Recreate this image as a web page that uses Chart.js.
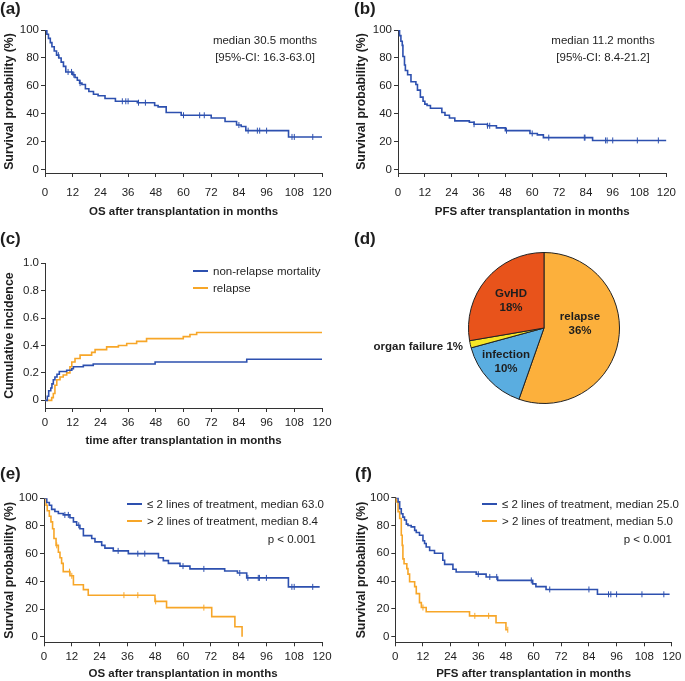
<!DOCTYPE html>
<html><head><meta charset="utf-8">
<script src="https://cdn.jsdelivr.net/npm/chart.js@4"></script>
<style>
body{margin:0;background:#fff;}
#wrap{position:relative;width:685px;height:681px;overflow:hidden;font-family:"Liberation Sans",Arial,sans-serif;color:#1e1e1e;background:#fff;}
canvas{position:absolute;}
.t{position:absolute;white-space:nowrap;font-size:11.5px;line-height:14px;}
.c{text-align:center;}
.r{text-align:right;}
.b{font-weight:bold;}
.lab{position:absolute;font-weight:bold;font-size:17px;line-height:20px;white-space:nowrap;}
.sw{position:absolute;height:2px;width:15px;}
</style></head><body><div id="wrap">
<canvas id="ca" width="342" height="222" style="left:0;top:0"></canvas>
<canvas id="cb" width="343" height="222" style="left:342px;top:0"></canvas>
<canvas id="cc" width="342" height="228" style="left:0;top:222px"></canvas>
<canvas id="cd" width="152" height="152" style="left:468px;top:252px"></canvas>
<canvas id="ce" width="342" height="231" style="left:0;top:450px"></canvas>
<canvas id="cf" width="343" height="231" style="left:342px;top:450px"></canvas>

<div class="lab" style="left:0;top:-1px">(a)</div>
<div class="lab" style="left:354px;top:-1px">(b)</div>
<div class="lab" style="left:0;top:229px">(c)</div>
<div class="lab" style="left:354px;top:229px">(d)</div>
<div class="lab" style="left:0;top:464px">(e)</div>
<div class="lab" style="left:355px;top:464px">(f)</div>

<div class="t c" style="left:185px;top:32px;width:160px;line-height:17px">median 30.5 months<br>[95%-CI: 16.3-63.0]</div>
<div class="t c" style="left:523px;top:32px;width:160px;line-height:17px">median 11.2 months<br>[95%-CI: 8.4-21.2]</div>

<div class="sw" style="left:193px;top:270px;background:#2D50AF"></div>
<div class="t" style="left:213px;top:264px">non-relapse mortality</div>
<div class="sw" style="left:193px;top:287px;background:#F7A628"></div>
<div class="t" style="left:213px;top:281px">relapse</div>

<div class="t b c" style="left:471px;top:286px;width:80px">GvHD<br>18%</div>
<div class="t b c" style="left:540px;top:309px;width:80px">relapse<br>36%</div>
<div class="t b c" style="left:466px;top:347px;width:80px">infection<br>10%</div>
<div class="t b r" style="left:343px;top:339px;width:120px">organ failure 1%</div>

<div class="sw" style="left:127px;top:503px;background:#2D50AF"></div>
<div class="t" style="left:147px;top:497px">≤ 2 lines of treatment, median 63.0</div>
<div class="sw" style="left:127px;top:520px;background:#F7A628"></div>
<div class="t" style="left:147px;top:514px">&gt; 2 lines of treatment, median 8.4</div>
<div class="t r" style="left:216px;top:532px;width:100px">p &lt; 0.001</div>

<div class="sw" style="left:482px;top:503px;background:#2D50AF"></div>
<div class="t" style="left:502px;top:497px">≤ 2 lines of treatment, median 25.0</div>
<div class="sw" style="left:482px;top:520px;background:#F7A628"></div>
<div class="t" style="left:502px;top:514px">&gt; 2 lines of treatment, median 5.0</div>
<div class="t r" style="left:572px;top:532px;width:100px">p &lt; 0.001</div>
</div>
<script>
// ---------------- data ----------------
const monthTicks = [0, 12, 24, 36, 48, 60, 72, 84, 96, 108, 120];
const pctTicks = [0, 20, 40, 60, 80, 100];
const cifTicks = [0, 0.2, 0.4, 0.6, 0.8, 1.0];

// (a) overall survival
const osTime = [0, 0.8, 1.5, 2.3, 3, 4, 5, 6, 7, 8, 9, 12, 13, 14, 15, 16, 17.5, 19, 21, 23, 26, 30.5, 40, 47.5, 49, 52.5, 59, 72, 78, 83, 85, 87, 105.5, 120];
const osSurv = [100, 97, 94, 91, 88, 85, 82, 80, 77, 74, 70, 68, 66, 64, 62, 61, 58, 56, 54, 53, 51, 49, 48, 46, 45, 41, 39, 37, 34.5, 32, 31, 28, 23.5, 23.5];
const osCensTime = [5.8, 10, 11.5, 12.5, 15.2, 33.5, 35, 36, 40.5, 43.5, 60, 67, 69, 84, 88, 92, 93, 96, 107, 108, 116];
const osCensSurv = [82, 70, 70, 68, 62, 49, 49, 49, 48, 48, 39, 39, 39, 32, 28, 28, 28, 28, 23.5, 23.5, 23.5];

// (b) progression-free survival
const pfsTime = [0, 0.7, 1.3, 1.9, 2.2, 2.9, 3.3, 4.3, 5.8, 8, 8.7, 10, 11.2, 12, 13, 14.5, 19.6, 21, 23, 25.4, 31.9, 34, 40, 44, 48, 59, 62.3, 65, 87, 120];
const pfsSurv = [100, 96, 92, 89, 81, 75, 71, 68, 63, 61, 57, 52, 49, 47, 46, 44, 41, 39, 37, 35, 34, 32.6, 31.5, 30, 28, 26, 25, 23, 21, 21];
const pfsCensTime = [34, 40, 41, 48.5, 60, 67.4, 83.3, 83.6, 92.8, 93.5, 96, 107, 116.4];
const pfsCensSurv = [32.6, 31.5, 31.5, 28, 26, 23, 23, 23, 21, 21, 21, 21, 21];

// (c) cumulative incidence
const nrmTime = [0, 1, 1.6, 2.5, 3, 3.6, 4.3, 5.2, 6.2, 9.4, 11.6, 12.3, 16.6, 20.9, 47.7, 87.4, 120];
const nrmInc = [0, 0.03, 0.07, 0.09, 0.12, 0.15, 0.17, 0.19, 0.21, 0.22, 0.23, 0.245, 0.255, 0.265, 0.28, 0.30, 0.30];
const relTime = [0, 2.9, 3.6, 4.3, 5.1, 6.5, 7.9, 9.4, 10.8, 11.6, 13, 15.2, 20.2, 21.7, 26.7, 31.8, 35.4, 39.7, 44, 59.9, 62.8, 65.7, 120];
const relInc = [0, 0.02, 0.05, 0.11, 0.15, 0.17, 0.185, 0.2, 0.245, 0.28, 0.305, 0.33, 0.35, 0.37, 0.39, 0.40, 0.415, 0.43, 0.45, 0.465, 0.48, 0.495, 0.495];

// (d) causes of death (% of cohort)
const pieLabels = ['relapse', 'infection', 'organ failure', 'GvHD'];
const piePct = [36, 10, 1, 18];

// (e) OS by lines of treatment
const osLowTime = [0, 1.2, 2.3, 3.3, 4.7, 6.2, 8.3, 11.2, 12.7, 14.1, 15.5, 17, 20.6, 22, 24.9, 26.3, 29.9, 36.4, 49.4, 51.5, 53.7, 58.7, 63, 78, 83.5, 87.5, 105.5, 119];
const osLowSurv = [100, 97, 95, 92, 90.5, 89, 88, 86, 83, 80.5, 78, 73, 71, 68.5, 66, 64, 62, 60, 57, 55, 53, 51, 49, 47.5, 46, 42.5, 36, 36];
const osLowCensTime = [9, 10.5, 15, 32, 40.5, 43.5, 60, 69, 84.5, 88, 92.5, 93, 96, 107, 108, 116];
const osLowCensSurv = [88, 88, 80.5, 62, 60, 60, 51, 49, 46, 42.5, 42.5, 42.5, 42.5, 36, 36, 36];
const osHighTime = [0, 0.9, 1.4, 2.3, 3, 3.7, 4.3, 5.2, 6.2, 6.9, 7.6, 8.3, 11.2, 12.7, 17, 19.1, 47.9, 52.9, 72.4, 82.4, 85.5];
const osHighSurv = [100, 95, 91, 87, 83, 78, 71, 66, 61, 57, 53, 47, 44, 37.5, 34, 30, 25.5, 21, 14.5, 7.2, 0];
const osHighCensTime = [5.5, 11, 12, 34.5, 40.5, 48.2, 69];
const osHighCensSurv = [66, 47, 44, 30, 30, 25.5, 21];

// (f) PFS by lines of treatment
const pfsLowTime = [0, 1.2, 1.9, 2.6, 3.3, 4, 4.8, 5.5, 6.9, 8.4, 9.1, 10.5, 12, 12.7, 13.4, 14.9, 17, 20.6, 21.4, 25, 26.4, 35.1, 39.4, 44.4, 59.6, 61, 65.4, 87.7, 119];
const pfsLowSurv = [100, 97, 92, 88.5, 86, 84, 81, 80, 79, 76.5, 75, 73, 69, 67, 64.5, 62, 60, 55, 52, 48.5, 46.5, 45, 43, 40.5, 38, 36, 34, 30.5, 30.5];
const pfsLowCensTime = [36, 41, 44, 59, 67, 84, 92.5, 93.5, 96, 107, 116.5];
const pfsLowCensSurv = [45, 43, 43, 40.5, 34, 34, 30.5, 30.5, 30.5, 30.5, 30.5];
const pfsHighTime = [0, 0.4, 1.2, 1.9, 2.6, 3, 3.3, 3.8, 5, 5.5, 6.2, 8.4, 9.1, 10.5, 11.3, 13.4, 32.2, 43.7, 48, 48.8];
const pfsHighSurv = [100, 97, 90, 85, 73, 65.7, 56, 52.5, 49, 45, 39.5, 36, 31, 24.5, 21, 18, 15, 10, 5, 5];
const pfsHighCensTime = [12, 34.5, 40.5, 48.8];
const pfsHighCensSurv = [21, 15, 15, 5];

// ---------------- drawing ----------------
const BLUE = '#2D50AF', ORANGE = '#F7A628', TXT = '#1e1e1e', AX = '#333';
Chart.defaults.font.family = '"Liberation Sans", Arial, sans-serif';
Chart.defaults.font.size = 11.5;
Chart.defaults.color = TXT;

const toXY = (xs, ys) => xs.map((x, i) => ({x: x, y: ys[i]}));
function lineDS(xs, ys, color) {
  return {type: 'line', data: toXY(xs, ys), borderColor: color, borderWidth: 1.6,
          stepped: 'before', pointRadius: 0, fill: false, order: 2};
}
function censDS(xs, ys, color) {
  return {type: 'scatter', data: toXY(xs, ys), borderColor: color, backgroundColor: color,
          pointStyle: 'line', rotation: 90, pointRadius: 3, borderWidth: 1, showLine: false, order: 1};
}

function kmChart(id, datasets, o) {
  const gridCfg = {display: true, drawOnChartArea: false, drawTicks: true, tickLength: 4, color: AX, lineWidth: 1};
  return new Chart(document.getElementById(id), {
    type: 'line',
    data: {datasets: datasets},
    options: {
      responsive: false, animation: false, events: [],
      layout: {padding: {left: 0, top: o.padTop, right: o.padRight, bottom: 0}},
      plugins: {legend: {display: false}, tooltip: {enabled: false}},
      scales: {
        x: {
          type: 'linear', min: 0, max: 120,
          afterBuildTicks: s => { s.ticks = monthTicks.map(v => ({value: v})); },
          afterFit: s => { s.height = o.xHeight; },
          grid: gridCfg, border: {display: true, color: AX, width: 1},
          ticks: {padding: o.xTickPad, autoSkip: false, maxRotation: 0, minRotation: 0, color: TXT},
          title: {display: true, text: o.xTitle, color: TXT, font: {size: 11.5, weight: 'bold'},
                  padding: {top: 0, bottom: o.xTitlePad}}
        },
        y: {
          type: 'linear', min: o.yMin, max: o.yMax,
          afterBuildTicks: s => { s.ticks = o.yTicks.map(v => ({value: v})); },
          afterFit: s => { s.width = o.yWidth; },
          grid: gridCfg, border: {display: true, color: AX, width: 1},
          ticks: {padding: 2, color: TXT, callback: o.yFmt || (v => v)},
          title: {display: true, text: o.yTitle, color: TXT, font: {size: 12.3, weight: 'bold'},
                  padding: {top: o.yTitlePad, bottom: 0}}
        }
      }
    }
  });
}

kmChart('ca', [lineDS(osTime, osSurv, BLUE), censDS(osCensTime, osCensSurv, BLUE)], {
  padTop: 30, padRight: 20, xHeight: 49, yWidth: 45, yMin: -2.3, yMax: 100, yTicks: pctTicks,
  xTickPad: 9, xTitlePad: 3, yTitlePad: 2.5,
  xTitle: 'OS after transplantation in months', yTitle: 'Survival probability (%)'
});
kmChart('cb', [lineDS(pfsTime, pfsSurv, BLUE), censDS(pfsCensTime, pfsCensSurv, BLUE)], {
  padTop: 30, padRight: 11, xHeight: 49, yWidth: 56, yMin: -2.3, yMax: 100, yTicks: pctTicks,
  xTickPad: 9, xTitlePad: 3, yTitlePad: 12.5,
  xTitle: 'PFS after transplantation in months', yTitle: 'Survival probability (%)'
});
kmChart('cc', [lineDS(nrmTime, nrmInc, BLUE), lineDS(relTime, relInc, ORANGE)], {
  padTop: 41.3, padRight: 20, xHeight: 42, yWidth: 45, yMin: -0.056, yMax: 1, yTicks: cifTicks,
  yFmt: v => (v === 0 ? '0' : v.toFixed(1)),
  xTickPad: 3.6, xTitlePad: 2.4, yTitlePad: 2.5,
  xTitle: 'time after transplantation in months', yTitle: 'Cumulative incidence'
});
kmChart('ce', [lineDS(osLowTime, osLowSurv, BLUE), censDS(osLowCensTime, osLowCensSurv, BLUE),
               lineDS(osHighTime, osHighSurv, ORANGE), censDS(osHighCensTime, osHighCensSurv, ORANGE)], {
  padTop: 48.3, padRight: 20, xHeight: 38.7, yWidth: 44, yMin: -4.05, yMax: 100, yTicks: pctTicks,
  xTickPad: 3.5, xTitlePad: 0, yTitlePad: 2.5,
  xTitle: 'OS after transplantation in months', yTitle: 'Survival probability (%)'
});
kmChart('cf', [lineDS(pfsLowTime, pfsLowSurv, BLUE), censDS(pfsLowCensTime, pfsLowCensSurv, BLUE),
               lineDS(pfsHighTime, pfsHighSurv, ORANGE), censDS(pfsHighCensTime, pfsHighCensSurv, ORANGE)], {
  padTop: 47.7, padRight: 12.3, xHeight: 38.7, yWidth: 53.3, yMin: -4.03, yMax: 100, yTicks: pctTicks,
  xTickPad: 3.5, xTitlePad: 0, yTitlePad: 12.5,
  xTitle: 'PFS after transplantation in months', yTitle: 'Survival probability (%)'
});

new Chart(document.getElementById('cd'), {
  type: 'pie',
  data: {labels: pieLabels, datasets: [{data: piePct,
    backgroundColor: ['#FCB03C', '#5AADE0', '#F5E626', '#E8531B'],
    borderColor: '#222', borderWidth: 1}]},
  options: {responsive: false, animation: false, events: [],
    layout: {padding: 0},
    plugins: {legend: {display: false}, tooltip: {enabled: false}}}
});
</script>
</body></html>
